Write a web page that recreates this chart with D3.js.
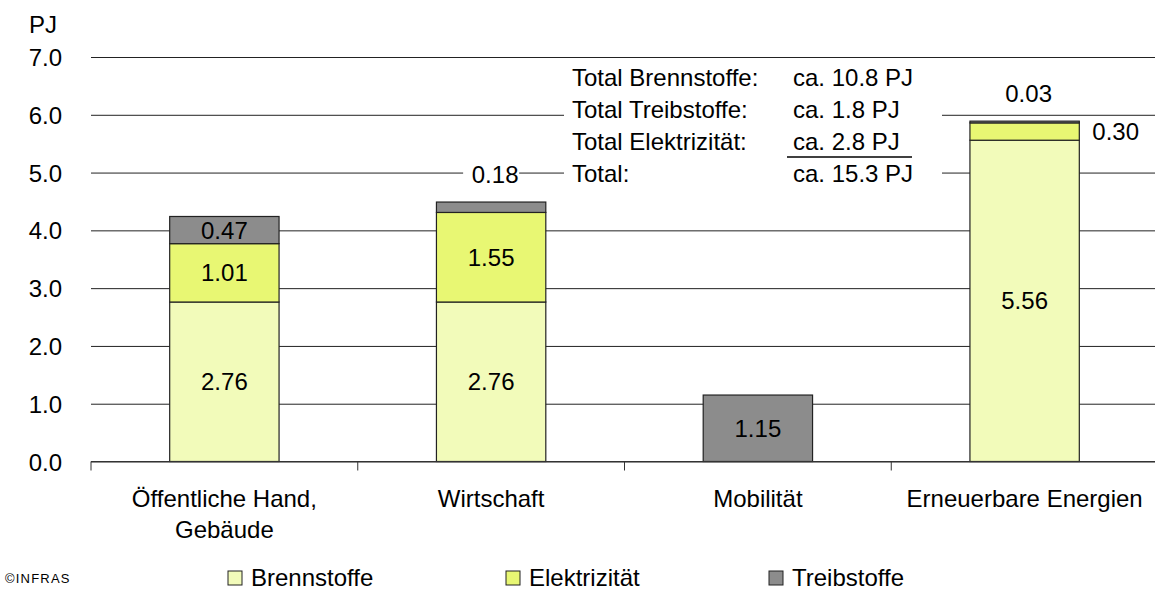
<!DOCTYPE html>
<html>
<head>
<meta charset="utf-8">
<script src="https://cdnjs.cloudflare.com/ajax/libs/d3/7.8.5/d3.min.js"></script>
<title>Energieverbrauch</title>
<style>
  body{ margin:0; background:#fff; }
  svg{ display:block; font-family:"Liberation Sans", Arial, sans-serif; }
</style>
</head>
<body>
<script>
// data
var categories = ["Öffentliche Hand,|Gebäude", "Wirtschaft", "Mobilität", "Erneuerbare Energien"],
    seriesNames = ["Brennstoffe", "Elektrizität", "Treibstoffe"],
    brennstoffe  = [2.76, 2.76, 0, 5.56],
    elektrizitaet = [1.01, 1.55, 0, 0.30],
    treibstoffe  = [0.47, 0.18, 1.15, 0.03],
    yTicks = [0, 1, 2, 3, 4, 5, 6, 7],
    summaryLabels = ["Total Brennstoffe:", "Total Treibstoffe:", "Total Elektrizität:", "Total:"],
    summaryValues = ["ca. 10.8 PJ", "ca. 1.8 PJ", "ca. 2.8 PJ", "ca. 15.3 PJ"],
    colors = ["#f2fbba", "#e8f773", "#8c8c8c"];

var W = 1155, H = 590,
    left = 91, right = 1158, y0 = 461.5, y7 = 57,
    fs = 24;

var rows = categories.map(function(c, i){
  return { cat: c, "Brennstoffe": brennstoffe[i], "Elektrizität": elektrizitaet[i], "Treibstoffe": treibstoffe[i] };
});

var svg = d3.select("body").append("svg")
    .attr("width", W)
    .attr("height", H);

var x = d3.scaleBand().domain(categories).range([left, right]).padding(0),
    y = d3.scaleLinear().domain([0, 7]).range([y0, y7]),
    barW = x.bandwidth()*0.41;

// gridlines + y labels
var yAxis = svg.append("g")
    .attr("transform", "translate(" + left + ",0)")
    .call(d3.axisLeft(y).tickValues(yTicks).tickFormat(d3.format(".1f"))
      .tickSize(-(W - left + 5)).tickPadding(29));
yAxis.select(".domain").remove();
yAxis.selectAll("line").attr("stroke", "#222").attr("stroke-width", 1);
yAxis.selectAll("text").attr("font-size", fs).attr("fill", "#000")
    .attr("font-family", "Liberation Sans, Arial, sans-serif").attr("dy", "0.36em");

svg.append("text").attr("x", 29).attr("y", 33).attr("font-size", fs).text("PJ");

// stacked bars
var stack = d3.stack().keys(seriesNames)(rows);

var layer = svg.selectAll("g.layer")
  .data(stack)
  .enter().append("g")
    .attr("class", "layer")
    .attr("fill", function(d, i){ return colors[i]; });

layer.selectAll("rect")
  .data(function(d){ return d.filter(function(s){ return s[1] - s[0] > 0; }); })
  .enter().append("rect")
    .attr("x", function(d){ return x(d.data.cat) + (x.bandwidth() - barW)/2; })
    .attr("y", function(d){ return y(d[1]); })
    .attr("width", barW)
    .attr("height", function(d){ return y(d[0]) - y(d[1]); })
    .attr("stroke", "#222")
    .attr("stroke-width", 1.2);

// x axis line and boundary ticks
var bounds = categories.map(function(c){ return x(c); }).concat([right]);
svg.append("line")
    .attr("x1", left).attr("x2", right)
    .attr("y1", y0).attr("y2", y0)
    .attr("stroke", "#333").attr("stroke-width", 1.2);
svg.selectAll("line.xtick")
  .data(bounds)
  .enter().append("line")
    .attr("class", "xtick")
    .attr("x1", function(d){ return d; }).attr("x2", function(d){ return d; })
    .attr("y1", y0).attr("y2", y0 + 9)
    .attr("stroke", "#333");

// category labels
var xl = svg.selectAll("text.xlab")
  .data(categories)
  .enter().append("text")
    .attr("class", "xlab")
    .attr("text-anchor", "middle")
    .attr("font-size", fs)
    .attr("x", function(d){ return x(d) + x.bandwidth()/2; })
    .attr("y", 507);
xl.selectAll("tspan")
  .data(function(d){ return d.split("|"); })
  .enter().append("tspan")
    .attr("x", function(){ var p = this.parentNode; return p.getAttribute("x"); })
    .attr("dy", function(d, i){ return i ? 31 : 0; })
    .text(function(d){ return d; });

// value labels
var fmt = d3.format(".2f");
stack.forEach(function(s, si){
  s.forEach(function(d){
    var v = d[1] - d[0];
    if (v <= 0) return;
    var cx = x(d.data.cat) + x.bandwidth()/2,
        isTop = si === seriesNames.length - 1,
        small = v < 0.4;
    if (!small){
      svg.append("text")
        .attr("x", cx).attr("y", y((d[0] + d[1])/2) + 8.5)
        .attr("text-anchor", "middle").attr("font-size", fs)
        .text(fmt(v));
    } else if (isTop){
      var ty = y(d[1]) - 28;
      svg.append("rect")
        .attr("x", cx - 28).attr("y", ty - 13)
        .attr("width", 56).attr("height", 26)
        .attr("fill", "#fff");
      svg.append("text")
        .attr("x", cx + 4).attr("y", ty + 8.5)
        .attr("text-anchor", "middle").attr("font-size", fs)
        .text(fmt(v));
    } else {
      svg.append("text")
        .attr("x", cx + barW/2 + 13).attr("y", y((d[0] + d[1])/2) + 8.5)
        .attr("font-size", fs)
        .text(fmt(v));
    }
  });
});

// summary block
svg.append("rect")
    .attr("x", 564).attr("y", 62)
    .attr("width", 378).attr("height", 128)
    .attr("fill", "#fff");
var sy = [86, 118, 150, 182];
svg.selectAll("text.slab")
  .data(summaryLabels)
  .enter().append("text")
    .attr("class", "slab")
    .attr("x", 572).attr("y", function(d, i){ return sy[i]; })
    .attr("font-size", fs)
    .text(function(d){ return d; });
svg.selectAll("text.sval")
  .data(summaryValues)
  .enter().append("text")
    .attr("class", "sval")
    .attr("x", 793).attr("y", function(d, i){ return sy[i]; })
    .attr("font-size", fs)
    .text(function(d){ return d; });
svg.append("line")
    .attr("x1", 787).attr("x2", 912)
    .attr("y1", 157).attr("y2", 157)
    .attr("stroke", "#000").attr("stroke-width", 1.5);

// legend
svg.append("text")
    .attr("x", 5).attr("y", 583)
    .attr("font-size", 13).attr("letter-spacing", 1.2)
    .text("©INFRAS");
var legX = [228, 506, 769];
var leg = svg.selectAll("g.leg")
  .data(seriesNames)
  .enter().append("g")
    .attr("class", "leg")
    .attr("transform", function(d, i){ return "translate(" + legX[i] + ",571)"; });
leg.append("rect")
    .attr("width", 14).attr("height", 14)
    .attr("fill", function(d, i){ return colors[i]; })
    .attr("stroke", "#222");
leg.append("text")
    .attr("x", 23).attr("y", 15)
    .attr("font-size", fs)
    .text(function(d){ return d; });
</script>
</body>
</html>
